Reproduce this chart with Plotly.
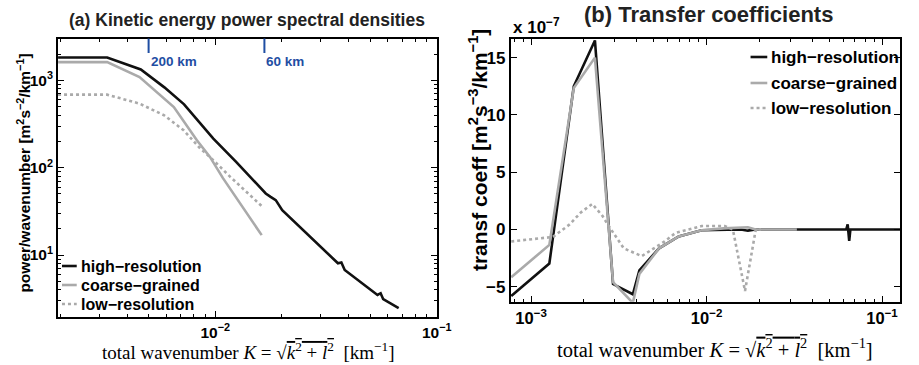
import numpy as np
import plotly.graph_objects as go

# ---------------- data: panel (a) power spectral densities ----------------
K_hr_a = [0.00195, 0.00325, 0.00461, 0.00589, 0.00723, 0.00851, 0.0098, 0.01245, 0.0148,
          0.0169, 0.01778, 0.01875, 0.02006, 0.0358, 0.0371, 0.0384, 0.054, 0.0558, 0.0573, 0.0673]
P_hr_a = [1832, 1832, 1336, 832, 532, 331, 215, 116, 72,
          50.7, 46.4, 42.5, 32.7, 8.04, 8.2, 6.74, 3.49, 3.65, 3.12, 2.46]

K_cg_a = [0.00195, 0.00325, 0.00455, 0.0065, 0.00826, 0.00946, 0.01083, 0.0162]
P_cg_a = [1618, 1618, 1090, 495, 206, 133, 76, 16.9]

K_lr_a = [0.00195, 0.00325, 0.00455, 0.00588, 0.0072, 0.00855, 0.0098, 0.0116, 0.01633]
P_lr_a = [687, 687, 542, 398, 268, 166, 122, 80, 35.7]

marker_km = [200, 60]          # wavelength markers on panel (a)

# ---------------- data: panel (b) transfer coefficients (x 1e-7) ----------------
K_hr_b = [0.00077, 0.00127, 0.00175, 0.00231, 0.00293, 0.0038, 0.00414, 0.00536, 0.00694,
          0.00937, 0.01566, 0.0172, 0.019, 0.035, 0.0625, 0.0637, 0.0650, 0.0660, 0.13]
T_hr_b = [-5.8, -2.97, 12.5, 16.5, -4.76, -5.65, -3.57, -1.64, -0.6,
          -0.06, 0.0, -0.1, 0.0, 0.0, 0.0, 0.45, -1.0, 0.0, 0.0]

K_cg_b = [0.00077, 0.00127, 0.00175, 0.00231, 0.00293, 0.0038, 0.00414, 0.00536, 0.00694,
          0.00937, 0.0125, 0.0157, 0.0172, 0.019, 0.0327]
T_cg_b = [-4.17, -1.34, 12.35, 15.0, -4.6, -6.4, -3.87, -1.64, -0.6,
          -0.06, 0.1, 0.15, 0.2, 0.0, 0.0]

K_lr_b = [0.00077, 0.00133, 0.00166, 0.00192, 0.00223, 0.00255, 0.00277, 0.00303, 0.00337,
          0.00427, 0.00577, 0.00665, 0.00937, 0.01268, 0.01412, 0.01656, 0.01907, 0.0204]
T_lr_b = [-1.04, -0.65, 0.45, 1.49, 2.23, 1.19, 0.3, -0.6, -1.64,
          -2.32, -1.04, -0.3, 0.3, 0.3, 0.0, -5.36, 0.0, 0.0]

names = ["high\u2212resolution", "coarse\u2212grained", "low\u2212resolution"]

BLACK = "#111111"
GRAY = "#aaaaaa"
BLUE = "#1f4ea3"
SANS = "Liberation Sans"
SERIF = "Liberation Serif"
W, H = 919, 365

fig = go.Figure()

styles = [dict(color=BLACK, width=2.6), dict(color=GRAY, width=2.6),
          dict(color=GRAY, width=2.6, dash="3px,3px")]

for (K, P), nm, st in zip([(K_hr_a, P_hr_a), (K_cg_a, P_cg_a), (K_lr_a, P_lr_a)], names, styles):
    fig.add_trace(go.Scatter(x=K, y=P, mode="lines", name=nm, line=st,
                             xaxis="x", yaxis="y", showlegend=False))
for (K, T), nm, st in zip([(K_hr_b, T_hr_b), (K_cg_b, T_cg_b), (K_lr_b, T_lr_b)], names, styles):
    fig.add_trace(go.Scatter(x=K, y=T, mode="lines", name=nm, line=st,
                             xaxis="x2", yaxis="y2", showlegend=False))

def px_x(p):
    return p / W

def px_y(p):
    return 1 - p / H

def log_minor(lo, hi):
    vals = []
    for d in range(lo, hi):
        for m in range(2, 10):
            vals.append(m * 10.0 ** d)
    return vals

def axis_style(fs):
    return dict(showline=True, linecolor="black", linewidth=2, mirror="allticks",
                ticks="inside", ticklen=6, tickwidth=1.2, tickcolor="black",
                showgrid=False, zeroline=False,
                tickfont=dict(family=SANS, size=fs, color="black", weight="bold"))

minor_common = dict(ticks="inside", ticklen=3, tickwidth=1, tickcolor="black", showgrid=False)

fig.update_layout(
    width=W, height=H, margin=dict(l=0, r=0, t=0, b=0),
    paper_bgcolor="white", plot_bgcolor="white", showlegend=False,
    xaxis=dict(type="log", domain=[px_x(59), px_x(444)],
               range=[np.log10(0.00195), -1.0],
               tickvals=[0.01, 0.1], ticktext=["10<sup>\u22122</sup>", "10<sup>\u22121</sup>"],
               minor=dict(tickvals=log_minor(-3, 0), **minor_common),
               anchor="y", **axis_style(15.5)),
    yaxis=dict(type="log", domain=[px_y(317), px_y(38.5)],
               range=[0.29, 3.48],
               tickvals=[10, 100, 1000],
               ticktext=["10<sup>1</sup>", "10<sup>2</sup>", "10<sup>3</sup>"],
               minor=dict(tickvals=log_minor(0, 4), **minor_common),
               anchor="x", **axis_style(15.5)),
    xaxis2=dict(type="log", domain=[px_x(519.3), px_x(915)],
                range=[np.log10(0.000766), np.log10(0.1267)],
                tickvals=[0.001, 0.01, 0.1],
                ticktext=["10<sup>\u22123</sup>", "10<sup>\u22122</sup>", "10<sup>\u22121</sup>"],
                minor=dict(tickvals=log_minor(-4, 0), **minor_common),
                anchor="y2", **axis_style(16.5)),
    yaxis2=dict(domain=[px_y(301.7), px_y(39.3)], range=[-6.3, 16.6],
                tickvals=[-5, 0, 5, 10, 15], ticktext=["\u22125", "0", "5", "10", "15"],
                anchor="x2", **axis_style(17)),
)

# wavelength markers on panel (a)
for km in marker_km:
    kval = 1.0 / km
    fig.add_shape(type="line", xref="x", yref="paper", x0=kval, x1=kval,
                  y0=px_y(38.5), y1=px_y(53), line=dict(color=BLUE, width=2))
    fig.add_annotation(xref="x", yref="paper", x=np.log10(kval), y=px_y(62),
                       text=f"<b>{km} km</b>", showarrow=False, xanchor="left",
                       yanchor="middle", font=dict(family=SANS, size=13.5, color=BLUE))

# manual legends (short line samples, tight rows as in the reference)
legend_rows = [
    dict(x0=63, x1=78, tx=80, ys=[266, 285, 304], fs=16),
    dict(x0=763, x1=780, tx=782, ys=[57, 83, 108], fs=17),
]
for lg in legend_rows:
    for nm, st, yy in zip(names, styles, lg["ys"]):
        ln = dict(color=st["color"], width=st["width"])
        if "dash" in st:
            ln["dash"] = st["dash"]
        fig.add_shape(type="line", xref="paper", yref="paper",
                      x0=px_x(lg["x0"]), x1=px_x(lg["x1"]), y0=px_y(yy), y1=px_y(yy), line=ln)
        fig.add_annotation(xref="paper", yref="paper", x=px_x(lg["tx"]), y=px_y(yy),
                           text=nm, showarrow=False, xanchor="left", yanchor="middle",
                           font=dict(family=SANS, size=lg["fs"], color="black", weight="bold"))

xt = ("total wavenumber <i>K</i> = \u221a<span style='text-decoration:overline'>"
      "<i>k</i><sup>2</sup> + <i>l</i><sup>2</sup></span>  [km<sup>\u22121</sup>]")

annots = [
    dict(x=px_x(251.5), y=px_y(20), text="(a) Kinetic energy power spectral densities",
         font=dict(family=SANS, size=17.5, color="#222222", weight="bold")),
    dict(x=px_x(720), y=px_y(15), text="(b) Transfer coefficients",
         font=dict(family=SANS, size=22, color="#222222", weight="bold")),
    dict(x=px_x(253), y=px_y(351), text=xt,
         font=dict(family=SERIF, size=19, color="black")),
    dict(x=px_x(727), y=px_y(348), text=xt,
         font=dict(family=SERIF, size=20.5, color="black")),
    dict(x=px_x(24), y=px_y(173), textangle=-90,
         text="power/wavenumber [m<sup>2</sup>s<sup>\u22122</sup>/km<sup>\u22121</sup>]",
         font=dict(family=SANS, size=15.5, color="black", weight="bold")),
    dict(x=px_x(486), y=px_y(150), textangle=-90,
         text="transf coeff [m<sup>2</sup>s<sup>\u22123</sup>/km<sup>\u22121</sup>]",
         font=dict(family=SANS, size=21, color="black", weight="bold")),
    dict(x=px_x(519), y=px_y(26), xanchor="left",
         text="x 10<sup>\u22127</sup>",
         font=dict(family=SANS, size=17, color="black", weight="bold")),
]
for a in annots:
    a.setdefault("xanchor", "center")
    fig.add_annotation(xref="paper", yref="paper", showarrow=False, yanchor="middle", **a)

fig.write_html("out.html")
